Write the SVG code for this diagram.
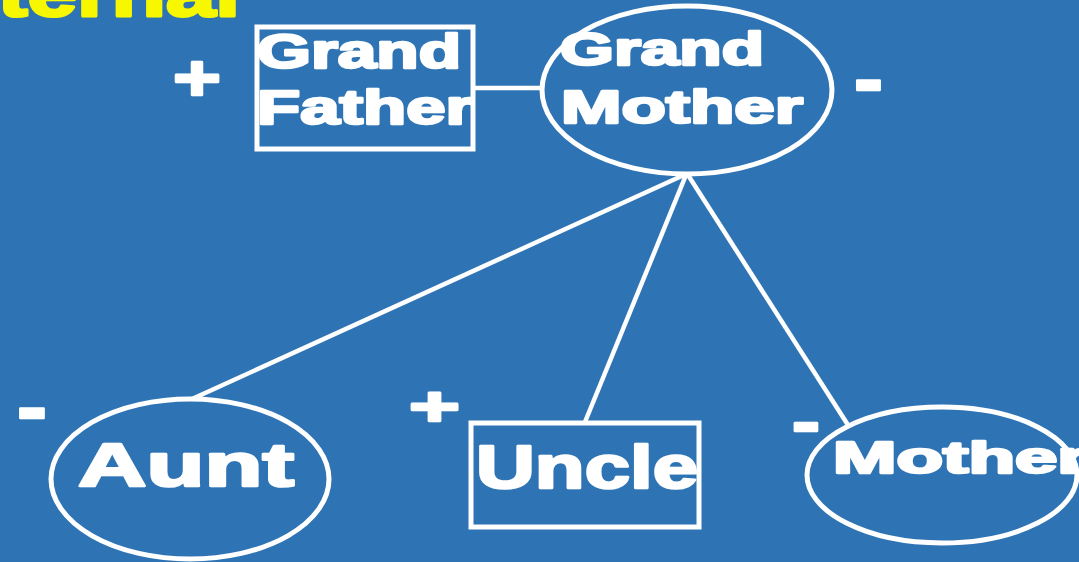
<svg xmlns="http://www.w3.org/2000/svg" width="1079" height="562" viewBox="0 0 1079 562">
<style>
.bg{fill:#2E74B5}
.shape{fill:none;stroke:#FFFFFF;stroke-width:5}
.line{stroke:#FFFFFF;stroke-width:4.5;fill:none}
.t{font-family:"Liberation Sans",Arial,sans-serif;font-weight:bold;fill:#FFFFFF;stroke:#FFFFFF;stroke-width:2.6;stroke-linejoin:round}
.y{font-family:"Liberation Sans",Arial,sans-serif;font-weight:bold;fill:#F7F700;stroke:#F7F700;stroke-width:3;stroke-linejoin:round}
</style>
<rect class="bg" x="0" y="0" width="1079" height="562"/>
<text class="y" x="-2" y="16" font-size="66" textLength="242" lengthAdjust="spacingAndGlyphs">ternal</text>
<g id="connectors">
<line class="line" x1="684" y1="175" x2="192" y2="399"/>
<line class="line" x1="686" y1="175" x2="585" y2="422"/>
<line class="line" x1="688" y1="175" x2="848" y2="425"/>
<line class="line" x1="474" y1="88" x2="543" y2="88"/>
</g>
<g id="grandfather">
<rect class="shape" x="257" y="27" width="216" height="122"/>
<text class="t" x="257" y="68" font-size="49" textLength="204" lengthAdjust="spacingAndGlyphs">Grand</text>
<text class="t" x="257" y="124" font-size="49" textLength="216" lengthAdjust="spacingAndGlyphs">Father</text>
<text class="t" x="173" y="100" font-size="64" textLength="48" lengthAdjust="spacingAndGlyphs">+</text>
</g>
<g id="grandmother">
<ellipse class="shape" cx="687" cy="90" rx="145" ry="84"/>
<text class="t" x="560" y="65" font-size="47" textLength="204" lengthAdjust="spacingAndGlyphs">Grand</text>
<text class="t" x="561" y="123" font-size="47" textLength="242" lengthAdjust="spacingAndGlyphs">Mother</text>
<text class="t" x="854" y="106" font-size="80" textLength="29" lengthAdjust="spacingAndGlyphs">-</text>
</g>
<g id="aunt">
<ellipse class="shape" cx="190" cy="479" rx="139" ry="80"/>
<text class="t" x="78" y="486" font-size="62" textLength="216" lengthAdjust="spacingAndGlyphs">Aunt</text>
<text class="t" x="17" y="434" font-size="80" textLength="30" lengthAdjust="spacingAndGlyphs">-</text>
</g>
<g id="uncle">
<rect class="shape" x="471" y="423" width="228" height="104"/>
<text class="t" x="476" y="488" font-size="61" textLength="222" lengthAdjust="spacingAndGlyphs">Uncle</text>
<text class="t" x="409" y="425" font-size="56" textLength="51" lengthAdjust="spacingAndGlyphs">+</text>
</g>
<g id="mother">
<ellipse class="shape" cx="942" cy="475" rx="135" ry="68"/>
<text class="t" x="833" y="473" font-size="44" textLength="254" lengthAdjust="spacingAndGlyphs">Mother</text>
<text class="t" x="792" y="444" font-size="66" textLength="28" lengthAdjust="spacingAndGlyphs">-</text>
</g>
</svg>
